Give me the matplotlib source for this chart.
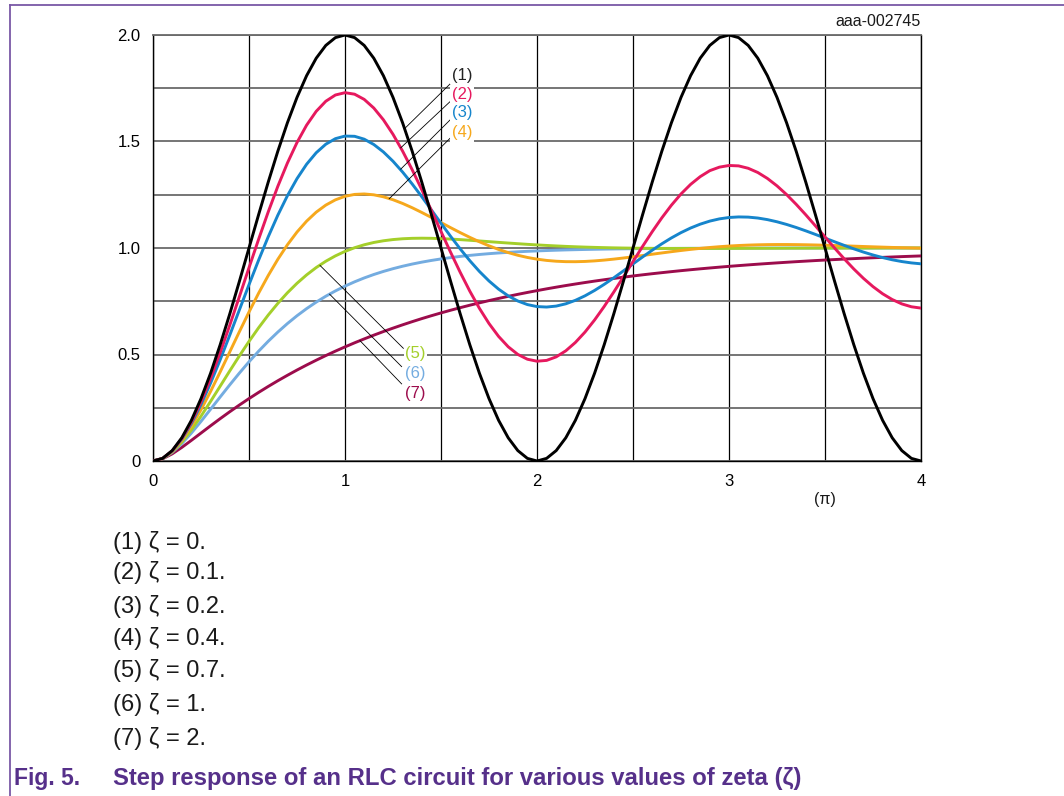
import matplotlib
matplotlib.use("Agg")
import matplotlib.pyplot as plt
from matplotlib.lines import Line2D

plt.rcParams['font.family'] = ['Liberation Sans', 'DejaVu Sans']

# ---- data (x in units of pi, step 0.05) ----
x_pi = [round(0.05 * i, 2) for i in range(81)]

y_z0 = [0, 0.0123, 0.0489, 0.1090, 0.1910, 0.2929, 0.4122, 0.5460, 0.6910, 0.8436, 1.0,
        1.1564, 1.3090, 1.4540, 1.5878, 1.7071, 1.8090, 1.8910, 1.9511, 1.9877, 2.0,
        1.9877, 1.9511, 1.8910, 1.8090, 1.7071, 1.5878, 1.4540, 1.3090, 1.1564, 1.0,
        0.8436, 0.6910, 0.5460, 0.4122, 0.2929, 0.1910, 0.1090, 0.0489, 0.0123, 0.0,
        0.0123, 0.0489, 0.1090, 0.1910, 0.2929, 0.4122, 0.5460, 0.6910, 0.8436, 1.0,
        1.1564, 1.3090, 1.4540, 1.5878, 1.7071, 1.8090, 1.8910, 1.9511, 1.9877, 2.0,
        1.9877, 1.9511, 1.8910, 1.8090, 1.7071, 1.5878, 1.4540, 1.3090, 1.1564, 1.0,
        0.8436, 0.6910, 0.5460, 0.4122, 0.2929, 0.1910, 0.1090, 0.0489, 0.0123, 0.0]
y_z01 = [0, 0.0122, 0.0479, 0.1057, 0.1833, 0.2783, 0.3879, 0.5089, 0.6381, 0.7720, 0.9074,
         1.0408, 1.1691, 1.2893, 1.3988, 1.4952, 1.5767, 1.6416, 1.6890, 1.7183, 1.7292,
         1.7221, 1.6977, 1.6571, 1.6019, 1.5338, 1.4549, 1.3673, 1.2736, 1.1762, 1.0775,
         0.9799, 0.8859, 0.7975, 0.7168, 0.6455, 0.5849, 0.5363, 0.5004, 0.4778, 0.4685,
         0.4723, 0.4889, 0.5173, 0.5566, 0.6053, 0.6622, 0.7255, 0.7934, 0.8643, 0.9363,
         1.0076, 1.0765, 1.1414, 1.2009, 1.2537, 1.2986, 1.3350, 1.3631, 1.3796, 1.3874,
         1.3855, 1.3743, 1.3545, 1.3266, 1.2917, 1.2508, 1.2050, 1.1557, 1.1042, 1.0517,
         0.9997, 0.9492, 0.9015, 0.8577, 0.8187, 0.7852, 0.7581, 0.7376, 0.7241, 0.7178]
y_z02 = [0, 0.0121, 0.0470, 0.1025, 0.1760, 0.2648, 0.3657, 0.4756, 0.5913, 0.7097, 0.8278,
         0.9429, 1.0523, 1.1538, 1.2454, 1.3256, 1.3932, 1.4472, 1.4873, 1.5133, 1.5255,
         1.5244, 1.5109, 1.4859, 1.4510, 1.4073, 1.3566, 1.3005, 1.2406, 1.1787, 1.1162,
         1.0548, 0.9958, 0.9405, 0.8900, 0.8452, 0.8068, 0.7753, 0.7512, 0.7344, 0.7250,
         0.7228, 0.7273, 0.7380, 0.7543, 0.7755, 0.8008, 0.8293, 0.8601, 0.8924, 0.9253,
         0.9579, 0.9896, 1.0196, 1.0473, 1.0722, 1.0938, 1.1119, 1.1263, 1.1367, 1.1432,
         1.1459, 1.1450, 1.1407, 1.1333, 1.1231, 1.1106, 1.0963, 1.0805, 1.0638, 1.0465,
         1.0292, 1.0123, 0.9961, 0.9809, 0.9672, 0.9551, 0.9447, 0.9364, 0.9300, 0.9257]
y_z04 = [0, 0.0118, 0.0451, 0.0965, 0.1628, 0.2406, 0.3268, 0.4184, 0.5127, 0.6071, 0.6994,
         0.7878, 0.8706, 0.9467, 1.0150, 1.0749, 1.1260, 1.1682, 1.2014, 1.2261, 1.2427,
         1.2516, 1.2537, 1.2497, 1.2404, 1.2266, 1.2092, 1.1890, 1.1668, 1.1434, 1.1194,
         1.0955, 1.0722, 1.0500, 1.0293, 1.0103, 0.9933, 0.9785, 0.9659, 0.9556, 0.9476,
         0.9417, 0.9379, 0.9359, 0.9357, 0.9369, 0.9395, 0.9432, 0.9478, 0.9530, 0.9587,
         0.9647, 0.9708, 0.9768, 0.9827, 0.9883, 0.9935, 0.9982, 1.0024, 1.0061, 1.0092,
         1.0117, 1.0136, 1.0150, 1.0159, 1.0163, 1.0163, 1.0159, 1.0152, 1.0142, 1.0130,
         1.0117, 1.0102, 1.0087, 1.0071, 1.0056, 1.0041, 1.0027, 1.0014, 1.0003, 0.9992]
y_z07 = [0, 0.0115, 0.0425, 0.0886, 0.1457, 0.2104, 0.2799, 0.3515, 0.4233, 0.4937, 0.5614,
         0.6254, 0.6851, 0.7399, 0.7897, 0.8343, 0.8737, 0.9082, 0.9378, 0.9630, 0.9841,
         1.0013, 1.0151, 1.0259, 1.0339, 1.0396, 1.0434, 1.0454, 1.0460, 1.0455, 1.0440,
         1.0419, 1.0393, 1.0363, 1.0331, 1.0298, 1.0265, 1.0233, 1.0202, 1.0172, 1.0145,
         1.0120, 1.0097, 1.0076, 1.0058, 1.0042, 1.0029, 1.0017, 1.0007, 0.9999, 0.9993,
         0.9988, 0.9984, 0.9982, 0.9980, 0.9979, 0.9979, 0.9979, 0.9980, 0.9981, 0.9982,
         0.9983, 0.9985, 0.9986, 0.9988, 0.9989, 0.9991, 0.9992, 0.9993, 0.9994, 0.9996,
         0.9996, 0.9997, 0.9998, 0.9999, 0.9999, 1.0000, 1.0000, 1.0000, 1.0001, 1.0001]
y_z1 = [0, 0.0111, 0.0401, 0.0816, 0.1313, 0.1860, 0.2431, 0.3008, 0.3577, 0.4129, 0.4656,
        0.5154, 0.5620, 0.6052, 0.6452, 0.6819, 0.7154, 0.7459, 0.7736, 0.7985, 0.8210,
        0.8412, 0.8594, 0.8756, 0.8900, 0.9029, 0.9144, 0.9246, 0.9336, 0.9416, 0.9487,
        0.9549, 0.9605, 0.9653, 0.9696, 0.9734, 0.9767, 0.9796, 0.9822, 0.9844, 0.9864,
        0.9881, 0.9896, 0.9910, 0.9921, 0.9931, 0.9940, 0.9948, 0.9955, 0.9961, 0.9966,
        0.9970, 0.9974, 0.9977, 0.9980, 0.9983, 0.9985, 0.9987, 0.9989, 0.9990, 0.9992,
        0.9993, 0.9994, 0.9995, 0.9995, 0.9996, 0.9996, 0.9997, 0.9997, 0.9998, 0.9998,
        0.9998, 0.9999, 0.9999, 0.9999, 0.9999, 0.9999, 0.9999, 0.9999, 1.0000, 1.0000]
y_z2 = [0, 0.0101, 0.0336, 0.0638, 0.0970, 0.1312, 0.1654, 0.1989, 0.2314, 0.2628, 0.2930,
        0.3220, 0.3499, 0.3767, 0.4023, 0.4270, 0.4506, 0.4732, 0.4950, 0.5158, 0.5357,
        0.5549, 0.5732, 0.5908, 0.6077, 0.6238, 0.6393, 0.6542, 0.6685, 0.6821, 0.6952,
        0.7078, 0.7198, 0.7314, 0.7424, 0.7531, 0.7632, 0.7730, 0.7824, 0.7913, 0.7999,
        0.8082, 0.8161, 0.8237, 0.8309, 0.8379, 0.8446, 0.8510, 0.8571, 0.8630, 0.8687,
        0.8741, 0.8793, 0.8842, 0.8890, 0.8936, 0.8980, 0.9022, 0.9062, 0.9101, 0.9138,
        0.9173, 0.9207, 0.9240, 0.9271, 0.9301, 0.9330, 0.9358, 0.9384, 0.9410, 0.9434,
        0.9457, 0.9480, 0.9501, 0.9522, 0.9541, 0.9560, 0.9578, 0.9596, 0.9612, 0.9628]

series_labels = ['(1)', '(2)', '(3)', '(4)', '(5)', '(6)', '(7)']
zeta_text = ['(1) ζ = 0.', '(2) ζ = 0.1.', '(3) ζ = 0.2.', '(4) ζ = 0.4.',
             '(5) ζ = 0.7.', '(6) ζ = 1.', '(7) ζ = 2.']
series = [y_z0, y_z01, y_z02, y_z04, y_z07, y_z1, y_z2]
colors = ['#000000', '#e6195e', '#1685cc', '#f6a81c', '#a4cf2a', '#74ace0', '#9c0c4c']

y_ticks = [0, 0.5, 1.0, 1.5, 2.0]
y_ticklabels = ['0', '0.5', '1.0', '1.5', '2.0']
y_minor = [0.25, 0.75, 1.25, 1.75]
x_ticks = [0, 1, 2, 3, 4]
x_ticklabels = ['0', '1', '2', '3', '4']
x_minor = [0.5, 1.5, 2.5, 3.5]

# label placement (text anchor, leader start, leader end on curve)
label_pos = [(1.556, 1.812), (1.556, 1.722), (1.556, 1.637), (1.556, 1.541),
             (1.3125, 0.506), (1.3125, 0.412), (1.3125, 0.318)]
leader_start = [(1.547, 1.770), (1.547, 1.687), (1.547, 1.601), (1.547, 1.515),
                (1.304, 0.529), (1.295, 0.443), (1.295, 0.362)]
leader_end = [(1.31, 1.56), (1.29, 1.47), (1.29, 1.37), (1.23, 1.231),
              (0.87, 0.918), (0.92, 0.783), (1.078, 0.565)]

W, H = 1064, 796
fig = plt.figure(figsize=(W / 100, H / 100), dpi=100)
fig.patch.set_facecolor('white')

ax = fig.add_axes([153 / W, 335 / H, 768 / W, 426 / H])
ax.set_xlim(0, 4)
ax.set_ylim(0, 2)
ax.set_yticks(y_ticks)
ax.set_yticklabels(y_ticklabels)
ax.set_yticks(y_minor, minor=True)
ax.set_xticks(x_ticks)
ax.set_xticklabels(x_ticklabels)
ax.set_xticks(x_minor, minor=True)
ax.tick_params(which='both', length=0)
ax.tick_params(axis='y', pad=9, labelsize=12)
ax.tick_params(axis='x', pad=9, labelsize=12)
ax.grid(axis='y', which='both', color='#6a6a6a', lw=1.3)
ax.grid(axis='x', which='both', color='#000000', lw=0.9)
ax.set_axisbelow(True)
ax.spines['left'].set_color('black')
ax.spines['bottom'].set_color('black')
ax.spines['right'].set_color('black')
ax.spines['top'].set_color('#6a6a6a')
for s in ax.spines.values():
    s.set_linewidth(1.0)
ax.spines['top'].set_linewidth(1.3)

for ys, c in zip(series[::-1], colors[::-1]):
    ax.plot(x_pi, ys, color=c, lw=2.1, solid_capstyle='round', solid_joinstyle='round', zorder=3)

for lab, c, p, s, e in zip(series_labels, colors, label_pos, leader_start, leader_end):
    ax.plot([s[0], e[0]], [s[1], e[1]], color='black', lw=0.6, zorder=4)
    ax.text(p[0], p[1], lab, color=c if c != '#000000' else '#222222', fontsize=12,
            ha='left', va='center', zorder=5,
            bbox=dict(facecolor='white', edgecolor='none', pad=1.0))

ax.text(3.5, -0.18, '(π)', fontsize=11.5, ha='center', va='center', color='#1a1a1a')
ax.text(4.0, 2.03, 'aaa-002745', fontsize=11.5, ha='right', va='bottom', color='#1a1a1a')

# legend text below
legend_y = [543, 572, 606, 638, 671, 705, 738]
for t, yy in zip(zeta_text, legend_y):
    fig.text(113 / W, 1 - yy / H, t, fontsize=17, ha='left', va='center', color='#1a1a1a')

purple = '#56308a'
fig.text(14 / W, 1 - 778 / H, 'Fig. 5.', fontsize=16.5, fontweight='bold',
         ha='left', va='center', color=purple)
fig.text(113 / W, 1 - 778 / H, 'Step response of an RLC circuit for various values of zeta (ζ)',
         fontsize=17.2, fontweight='bold', ha='left', va='center', color=purple)

# frame lines
fig.add_artist(Line2D([9.5 / W, 1.0], [1 - 4.5 / H, 1 - 4.5 / H], color='#7a58a6', lw=1.3,
                      transform=fig.transFigure))
fig.add_artist(Line2D([9.5 / W, 9.5 / W], [0, 1 - 4.5 / H], color='#7a58a6', lw=1.3,
                      transform=fig.transFigure))

fig.savefig('out.png', dpi=100)
